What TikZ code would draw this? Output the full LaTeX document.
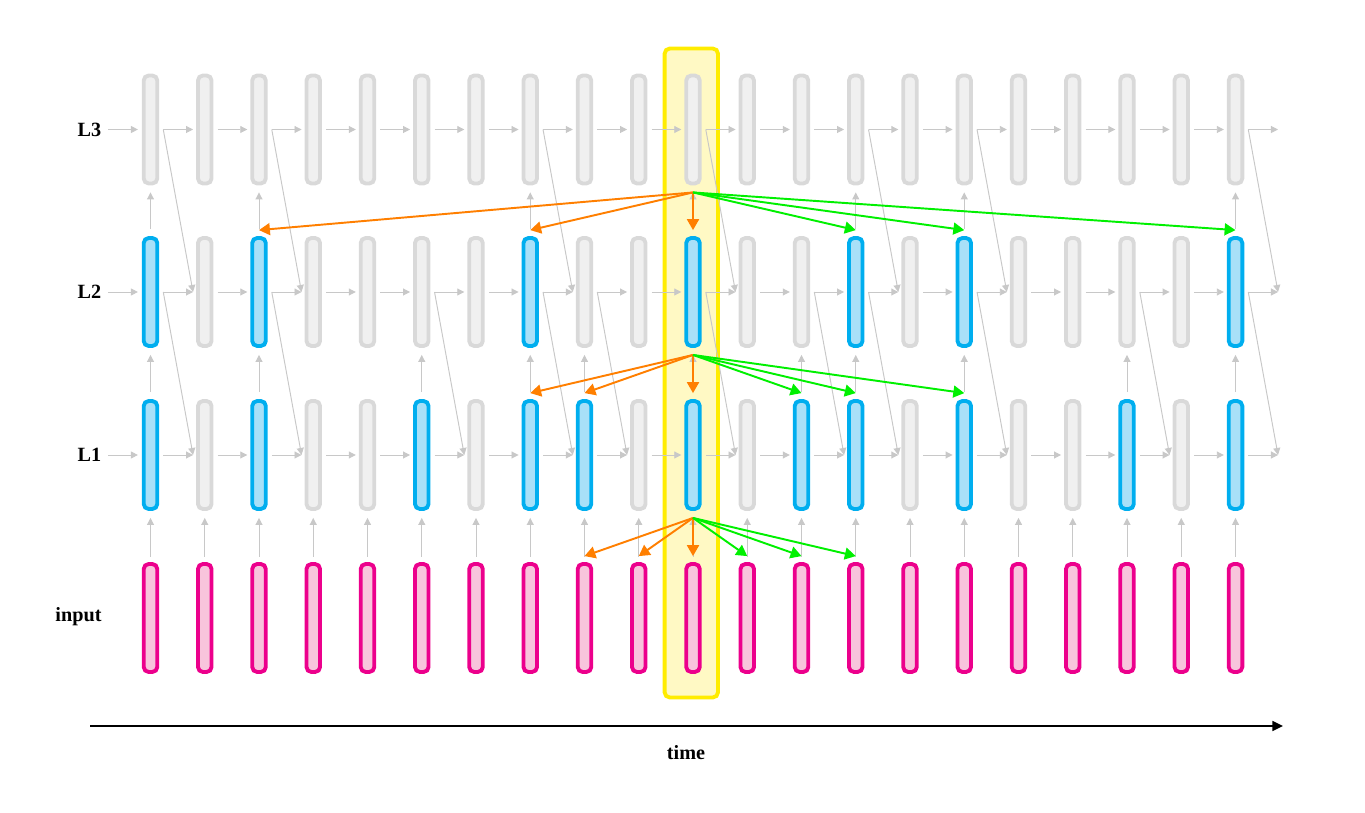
\documentclass[tikz,border=0pt]{standalone}
\usepackage{fontspec}
\setmainfont{Liberation Serif}
\usetikzlibrary{shapes,arrows,arrows.meta,positioning}

% cell colours: 0 = idle, 1 = boundary
\definecolor{fill0}{HTML}{F0F0F0}
\definecolor{line0}{HTML}{D9D9D9}
\definecolor{fill1}{HTML}{A8E0F8}
\definecolor{line1}{HTML}{00AEEF}
\definecolor{infill}{HTML}{F8C4DC}
\definecolor{inline}{HTML}{EC008C}
\definecolor{hlfill}{HTML}{FFF9C4}
\definecolor{hlline}{HTML}{FFEC00}
\definecolor{pastcol}{HTML}{FF7F00}
\definecolor{futcol}{HTML}{00F000}
\definecolor{wirecol}{HTML}{C8C8C8}

% boundary pattern per layer (columns 0..20)
\def\patone{1,0,1,0,0,1,0,1,1,0,1,0,1,1,0,1,0,0,1,0,1}
\def\pattwo{1,0,1,0,0,0,0,1,0,0,1,0,0,1,0,1,0,0,0,0,1}

\tikzset{
  cell/.style={rectangle, rounded corners=1mm, minimum width=2.72mm,
    minimum height=21.6mm, line width=2.2pt, inner sep=0pt},
  focus/.style={rectangle, rounded corners=1mm, minimum width=10.66mm,
    minimum height=129.8mm, line width=2.2pt, fill=hlfill, draw=hlline},
  wire/.style={draw=wirecol, line width=0.55pt,
    -{Triangle[length=4pt,width=4pt]}},
  past/.style={draw=pastcol, line width=1.1pt,
    -{Triangle[length=6.2pt,width=6.8pt]}},
  future/.style={past, draw=futcol},
  lab/.style={inner sep=0pt, font=\bfseries\fontsize{11.5}{13}\selectfont},
}

\begin{document}
\begin{tikzpicture}[x=0.02cm, y=-0.02cm]
\useasboundingbox (0,0) rectangle (1365,813);

% Highlighted time step
\node[focus] (now) at (691.3,373) {};

% Labels
\node[lab] (lab3) at (89.5,129.5) {L3};
\node[lab] (lab2) at (89.5,292) {L2};
\node[lab] (lab1) at (89.5,455) {L1};
\node[lab] (labin) at (78.5,616.5) {input};

% Cells
\foreach \i in {0,...,20}
  \node[cell, fill=infill, draw=inline] (in-\i) at ({150.5+54.25*\i},618) {};
\foreach \f [count=\i from 0] in \patone
  \node[cell, fill=fill\f, draw=line\f] (l1-\i) at ({150.5+54.25*\i},455) {};
\foreach \f [count=\i from 0] in \pattwo
  \node[cell, fill=fill\f, draw=line\f] (l2-\i) at ({150.5+54.25*\i},292) {};
\foreach \i in {0,...,20}
  \node[cell, fill=fill0, draw=line0] (l3-\i) at ({150.5+54.25*\i},129.5) {};

% Free ends on the right
\coordinate (l1-out) at (1278,455);
\coordinate (l2-out) at (1278,292);
\coordinate (l3-out) at (1278,129.5);

% Inputs into L1
\foreach \i in {0,...,20}
  \draw[wire] ([yshift=3pt]in-\i.north) -- ([yshift=-4pt]l1-\i.south);

% L1: recurrence, update to L2, top-down from L2
\foreach \f [count=\i from 0] in \patone {
  \pgfmathtruncatemacro\j{\i+1}
  \ifnum\i<20
    \draw[wire] ([xshift=2.3pt]l1-\i.east) -- ([xshift=-1.7pt]l1-\j.west);
    \ifnum\f=1
      \draw[wire] ([xshift=2.3pt]l2-\i.east) -- ([xshift=-1.7pt]l1-\j.west);
    \fi
  \fi
  \ifnum\f=1
    \draw[wire] ([yshift=4pt]l1-\i.north) -- ([yshift=-4pt]l2-\i.south);
  \fi
}

% L2: recurrence, update to L3, top-down from L3
\foreach \f [count=\i from 0] in \pattwo {
  \pgfmathtruncatemacro\j{\i+1}
  \ifnum\i<20
    \draw[wire] ([xshift=2.3pt]l2-\i.east) -- ([xshift=-1.7pt]l2-\j.west);
    \ifnum\f=1
      \draw[wire] ([xshift=2.3pt]l3-\i.east) -- ([xshift=-1.7pt]l2-\j.west);
    \fi
  \fi
  \ifnum\f=1
    \draw[wire] ([yshift=4pt]l2-\i.north) -- ([yshift=-4pt]l3-\i.south);
  \fi
}

% L3: recurrence
\foreach \i in {0,...,19} {
  \pgfmathtruncatemacro\j{\i+1}
  \draw[wire] ([xshift=2.3pt]l3-\i.east) -- ([xshift=-1.7pt]l3-\j.west);
}

% Last column and label arrows
\draw[wire] ([xshift=2.3pt]l1-20.east) -- (l1-out);
\draw[wire] ([xshift=2.3pt]l2-20.east) -- (l1-out);
\draw[wire] ([xshift=2.3pt]l2-20.east) -- (l2-out);
\draw[wire] ([xshift=2.3pt]l3-20.east) -- (l2-out);
\draw[wire] ([xshift=2.3pt]l3-20.east) -- (l3-out);
\draw[wire] ([xshift=3.7pt]lab3.east) -- ([xshift=-2.2pt]l3-0.west);
\draw[wire] ([xshift=3.7pt]lab2.east) -- ([xshift=-2.2pt]l2-0.west);
\draw[wire] ([xshift=3.7pt]lab1.east) -- ([xshift=-2.2pt]l1-0.west);

% Reach of the highlighted step: past (orange), future (green)
\foreach \c in {8,9,10}
  \draw[past] ([yshift=-4pt]l1-10.south) -- ([yshift=3.4pt]in-\c.north);
\foreach \c in {11,12,13}
  \draw[future] ([yshift=-4pt]l1-10.south) -- ([yshift=3.4pt]in-\c.north);
\foreach \c in {7,8,10}
  \draw[past] ([yshift=-4pt]l2-10.south) -- ([yshift=3.4pt]l1-\c.north);
\foreach \c in {12,13,15}
  \draw[future] ([yshift=-4pt]l2-10.south) -- ([yshift=3.4pt]l1-\c.north);
\foreach \c in {2,7,10}
  \draw[past] ([yshift=-4pt]l3-10.south) -- ([yshift=3.4pt]l2-\c.north);
\foreach \c in {13,15,20}
  \draw[future] ([yshift=-4pt]l3-10.south) -- ([yshift=3.4pt]l2-\c.north);

% Time axis
\coordinate (t0) at (90,726);
\coordinate (t1) at (1283,726);
\draw[line width=1.1pt, -{Triangle[length=6pt,width=5.6pt]}] (t0) -- (t1);
\node[lab] (time) at (686,753) {time};
\end{tikzpicture}
\end{document}
